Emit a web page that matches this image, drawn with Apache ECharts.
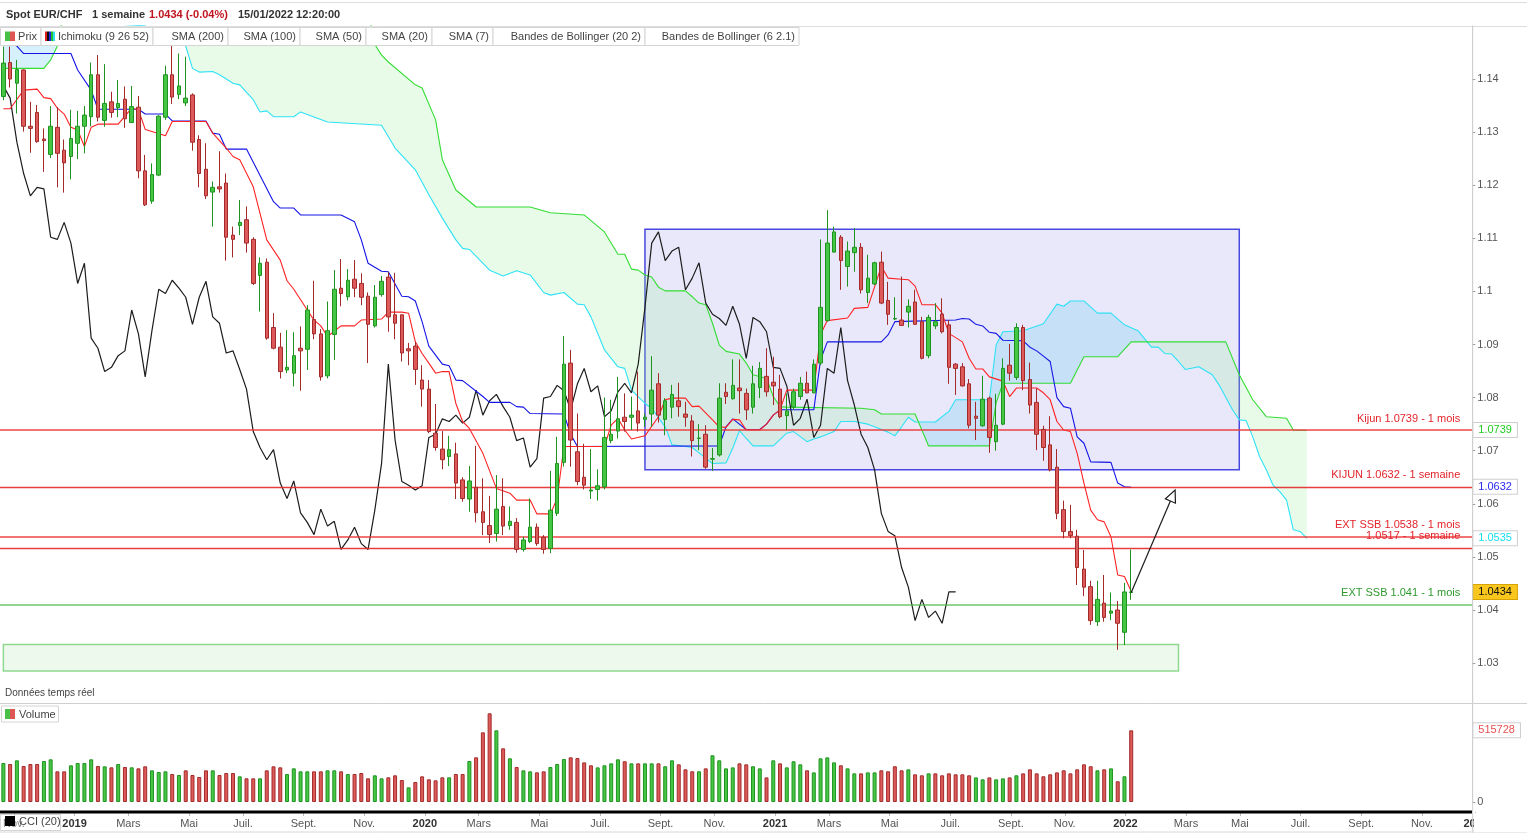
<!DOCTYPE html>
<html><head><meta charset="utf-8">
<script src="https://cdn.jsdelivr.net/npm/echarts@6/dist/echarts.min.js"></script>
<style>html,body{margin:0;padding:0;background:#fff}#c{width:1527px;height:833px}</style>
</head><body><div id="c"></div>
<script>
// ---------------- DATA ----------------
// weekly candles, first item = week of 29 Oct 2018 (partly hidden), last = week of 10 Jan 2022
const opens = [1.1367,1.1431,1.1392,1.1417,1.1311,1.1337,1.1287,1.1258,1.1309,1.1266,1.1254,1.1279,1.1311,1.1329,1.1408,1.1322,1.1357,1.1346,1.1362,1.1318,1.1347,1.1227,1.1170,1.1219,1.1328,1.1408,1.1371,1.1355,1.1370,1.1286,1.1230,1.1187,1.1197,1.1204,1.1106,1.1124,1.1135,1.1098,1.1030,1.1055,1.0932,1.0895,1.0852,1.0846,1.0893,1.0891,1.0947,1.0920,1.0841,1.0919,1.1006,1.0990,1.1023,1.1015,1.0991,1.0935,1.0994,1.1027,1.0956,1.0956,1.0892,1.0897,1.0833,1.0816,1.0733,1.0703,1.0689,1.0694,1.0645,1.0609,1.0631,1.0585,1.0559,1.0544,1.0595,1.0559,1.0565,1.0514,1.0529,1.0556,1.0537,1.0516,1.0582,1.0678,1.0865,1.0698,1.0650,1.0624,1.0627,1.0632,1.0719,1.0737,1.0763,1.0763,1.0775,1.0759,1.0769,1.0826,1.0759,1.0782,1.0794,1.0769,1.0756,1.0723,1.0731,1.0684,1.0692,1.0810,1.0798,1.0818,1.0808,1.0782,1.0819,1.0840,1.0829,1.0816,1.0766,1.0782,1.0802,1.0827,1.0809,1.0865,1.0945,1.1074,1.1102,1.1047,1.1073,1.1083,1.0998,1.1014,1.1055,1.0983,1.0948,1.0946,1.0961,1.0980,1.0943,1.0879,1.0935,1.0957,1.0937,1.0863,1.0858,1.0826,1.0765,1.0747,1.0799,1.0717,1.0750,1.0861,1.0838,1.0932,1.0834,1.0791,1.0740,1.0711,1.0669,1.0589,1.0548,1.0539,1.0477,1.0444,1.0378,1.0413,1.0394,1.0400,1.0358,1.0433];
const closes = [1.1430,1.1400,1.1418,1.1311,1.1307,1.1282,1.1284,1.1311,1.1260,1.1242,1.1288,1.1311,1.1332,1.1408,1.1328,1.1354,1.1337,1.1354,1.1325,1.1348,1.1227,1.1163,1.1220,1.1330,1.1408,1.1366,1.1387,1.1364,1.1281,1.1222,1.1180,1.1196,1.1193,1.1102,1.1098,1.1130,1.1091,1.1015,1.1053,1.0912,1.0893,1.0849,1.0857,1.0879,1.0888,1.0965,1.0920,1.0839,1.0926,1.1004,1.0996,1.1021,1.1006,1.0989,1.0938,1.0989,1.1019,1.0952,1.0940,1.0884,1.0888,1.0853,1.0816,1.0736,1.0706,1.0683,1.0702,1.0639,1.0610,1.0643,1.0583,1.0565,1.0542,1.0590,1.0558,1.0567,1.0514,1.0532,1.0556,1.0525,1.0514,1.0588,1.0676,1.0863,1.0720,1.0642,1.0635,1.0626,1.0634,1.0725,1.0731,1.0760,1.0755,1.0767,1.0752,1.0763,1.0814,1.0767,1.0794,1.0806,1.0783,1.0763,1.0719,1.0724,1.0669,1.0685,1.0799,1.0802,1.0823,1.0813,1.0777,1.0826,1.0855,1.0811,1.0822,1.0764,1.0775,1.0811,1.0827,1.0809,1.0863,1.0970,1.1091,1.1112,1.1058,1.1076,1.1083,1.1003,1.1025,1.1054,1.0978,1.0957,1.0949,1.0936,1.0972,1.0938,1.0874,1.0951,1.0943,1.0924,1.0857,1.0855,1.0822,1.0748,1.0761,1.0797,1.0725,1.0748,1.0855,1.0846,1.0932,1.0832,1.0786,1.0731,1.0706,1.0664,1.0582,1.0548,1.0540,1.0480,1.0443,1.0380,1.0420,1.0386,1.0398,1.0375,1.0434,1.0434];
const highs = [1.1461,1.1461,1.1436,1.1418,1.1357,1.1351,1.1307,1.1349,1.1347,1.1286,1.1342,1.1340,1.1349,1.1431,1.1445,1.1428,1.1376,1.1398,1.1386,1.1387,1.1368,1.1257,1.1241,1.1332,1.1425,1.1462,1.1448,1.1442,1.1373,1.1294,1.1279,1.1207,1.1264,1.1222,1.1122,1.1172,1.1160,1.1102,1.1064,1.1062,1.0959,1.0922,1.0927,1.0923,1.0934,1.0974,1.1020,1.0929,1.0981,1.1040,1.1061,1.1042,1.1059,1.1034,1.0998,1.1012,1.1029,1.1036,1.1035,1.0956,1.0903,1.0905,1.0861,1.0833,1.0788,1.0737,1.0728,1.0715,1.0650,1.0671,1.0709,1.0648,1.0615,1.0654,1.0648,1.0595,1.0573,1.0538,1.0610,1.0563,1.0541,1.0662,1.0726,1.0916,1.0890,1.0770,1.0713,1.0703,1.0665,1.0800,1.0796,1.0839,1.0808,1.0802,1.0849,1.0770,1.0878,1.0846,1.0799,1.0824,1.0828,1.0792,1.0767,1.0750,1.0748,1.0705,1.0827,1.0827,1.0872,1.0872,1.0817,1.0860,1.0867,1.0893,1.0877,1.0843,1.0808,1.0817,1.0839,1.0849,1.0872,1.1098,1.1153,1.1122,1.1106,1.1094,1.1119,1.1091,1.1069,1.1056,1.1075,1.1018,1.0989,1.1028,1.0985,1.1003,1.0952,1.0956,1.0978,1.0987,1.0946,1.0865,1.0865,1.0835,1.0792,1.0841,1.0802,1.0807,1.0874,1.0901,1.0940,1.0937,1.0866,1.0817,1.0747,1.0765,1.0703,1.0606,1.0598,1.0551,1.0513,1.0455,1.0455,1.0466,1.0433,1.0417,1.0451,1.0514];
const lows = [1.1360,1.1384,1.1335,1.1301,1.1261,1.1280,1.1225,1.1251,1.1196,1.1186,1.1211,1.1249,1.1260,1.1311,1.1320,1.1310,1.1327,1.1328,1.1308,1.1317,1.1213,1.1161,1.1165,1.1217,1.1323,1.1353,1.1362,1.1349,1.1265,1.1196,1.1174,1.1122,1.1186,1.1058,1.1064,1.1106,1.1073,1.1012,1.0962,1.0909,1.0891,1.0836,1.0846,1.0821,1.0813,1.0852,1.0910,1.0832,1.0836,1.0871,1.0972,1.0983,1.0989,1.0974,1.0865,1.0932,1.0990,1.0924,1.0910,1.0868,1.0861,1.0824,1.0783,1.0733,1.0700,1.0665,1.0671,1.0609,1.0604,1.0585,1.0565,1.0541,1.0526,1.0529,1.0541,1.0551,1.0508,1.0510,1.0526,1.0521,1.0506,1.0507,1.0577,1.0670,1.0670,1.0635,1.0627,1.0609,1.0606,1.0627,1.0714,1.0723,1.0736,1.0739,1.0736,1.0745,1.0745,1.0753,1.0729,1.0761,1.0764,1.0745,1.0689,1.0701,1.0666,1.0662,1.0689,1.0788,1.0796,1.0770,1.0758,1.0770,1.0799,1.0802,1.0786,1.0761,1.0739,1.0777,1.0796,1.0808,1.0808,1.0861,1.0943,1.1073,1.1003,1.1009,1.1037,1.0996,1.0978,1.1012,1.0976,1.0937,1.0946,1.0935,1.0932,1.0937,1.0872,1.0874,1.0929,1.0921,1.0826,1.0805,1.0821,1.0742,1.0720,1.0745,1.0696,1.0700,1.0748,1.0832,1.0833,1.0814,1.0770,1.0701,1.0681,1.0661,1.0571,1.0535,1.0535,1.0447,1.0426,1.0372,1.0370,1.0378,1.0381,1.0325,1.0334,1.0419];
const volumes = [280600,273400,299800,259000,273400,273400,295000,307000,220600,220600,263800,280600,280600,307000,259000,256600,249400,273400,251800,249400,242200,256600,227800,215800,220600,201400,194200,227800,194200,179900,227800,227800,194200,208600,208600,184600,170300,170300,170300,227800,256600,249400,201400,242200,220600,220600,220600,220600,227800,227800,220600,201400,201400,208600,170300,191800,170300,177500,191800,158300,105500,143900,184600,163100,155900,177500,177500,201400,201400,295000,321300,501200,637900,515600,386100,314100,251800,227800,220600,213400,220600,251800,273400,309300,321300,316500,285000,264000,249000,264000,278000,307000,293000,278000,278000,278000,278000,278000,257000,300000,271000,235000,221000,221000,242000,336000,300000,242000,249000,278000,271000,257000,242000,177000,300000,278000,249000,293000,271000,228000,213000,314000,321000,285000,264000,242000,206000,206000,213000,213000,228000,221000,257000,228000,235000,199000,192000,206000,206000,192000,206000,199000,199000,192000,177000,163000,177000,163000,170000,177000,192000,206000,235000,206000,185000,199000,213000,228000,206000,235000,271000,257000,228000,235000,242000,149000,185000,515728];

// Ichimoku lines: [week number (0 = week of 5 Nov 2018), price]
const tenkan = [[-1,1.1344],[0,1.1344],[2,1.1379],[4,1.1381],[5,1.1365],[6,1.1363],[7,1.1345],[8,1.1334],[9,1.1309],[10,1.1304],[11,1.1273],[12,1.1309],[13,1.1315],[16,1.1315],[18,1.1345],[19,1.1342],[20,1.1305],[21,1.1301],[23,1.1293],[24,1.1320],[29,1.1320],[30,1.1298],[32,1.1270],[33,1.1254],[34,1.1248],[36,1.1197],[37,1.1147],[38,1.1097],[40,1.1059],[41,1.1020],[42,1.1004],[44,1.0965],[45,1.0946],[46,1.0935],[47,1.0915],[49,1.0935],[51,1.0935],[52,1.0946],[55,1.0948],[56,1.0961],[58,1.0961],[59,1.0959],[60,1.0905],[61,1.0883],[62,1.0865],[63,1.0846],[64,1.0849],[65,1.0849],[66,1.0789],[67,1.0755],[68,1.0742],[70,1.0695],[72,1.0629],[74,1.0620],[75,1.0607],[77,1.0607],[78,1.0581],[80,1.0581],[81,1.0610],[82,1.0708],[88,1.0708],[89,1.0748],[90,1.0761],[91,1.0739],[92,1.0722],[94,1.0728],[96,1.0764],[97,1.0796],[98,1.0799],[100,1.0799],[101,1.0783],[102,1.0784],[104,1.0758],[105,1.0745],[106,1.0744],[107,1.0759],[108,1.0758],[109,1.0739],[111,1.0739],[112,1.0750],[113,1.0767],[114,1.0777],[115,1.0814],[119,1.0814],[120,1.0919],[121,1.0945],[124,1.0950],[125,1.0968],[127,1.0970],[129,1.1047],[130,1.1025],[132,1.1023],[133,1.1022],[134,1.1010],[135,1.0975],[137,1.0975],[138,1.0959],[139,1.0921],[141,1.0905],[142,1.0874],[143,1.0854],[144,1.0854],[145,1.0839],[147,1.0831],[148,1.0802],[149,1.0818],[152,1.0818],[153,1.0809],[154,1.0796],[155,1.0755],[156,1.0739],[157,1.0736],[158,1.0695],[159,1.0639],[160,1.0588],[161,1.0570],[162,1.0566],[163,1.0538],[164,1.0466],[165,1.0463],[166,1.0435]];
const kijun = [[-1,1.1475],[1,1.1462],[2,1.1448],[9,1.1448],[10,1.1417],[12,1.1379],[13,1.1343],[19,1.1343],[20,1.1334],[23,1.1334],[24,1.1321],[29,1.1321],[30,1.1298],[31,1.1296],[32,1.1268],[35,1.1268],[39,1.1169],[40,1.1157],[42,1.1157],[43,1.1144],[49,1.1144],[51,1.1131],[52,1.1097],[53,1.1053],[55,1.1038],[56,1.1037],[58,1.0991],[59,1.0990],[60,1.0982],[61,1.0943],[62,1.0897],[64,1.0863],[65,1.0860],[66,1.0833],[67,1.0832],[70,1.0802],[71,1.0791],[74,1.0791],[75,1.0783],[76,1.0782],[77,1.0770],[82,1.0769],[83,1.0731],[84,1.0708],[105,1.0709],[106,1.0745],[107,1.0760],[109,1.0740],[111,1.0740],[112,1.0750],[113,1.0767],[114,1.0777],[119,1.0777],[120,1.0871],[121,1.0905],[129,1.0905],[130,1.0918],[131,1.0943],[140,1.0946],[141,1.0949],[142,1.0948],[143,1.0938],[144,1.0935],[145,1.0923],[146,1.0921],[147,1.0908],[150,1.0907],[151,1.0895],[152,1.0888],[153,1.0878],[154,1.0868],[155,1.0800],[156,1.0783],[157,1.0780],[158,1.0726],[159,1.0714],[160,1.0679],[163,1.0678],[164,1.0639],[165,1.0632],[166,1.0631]];
const senkouA = [[-1,1.1510],[8,1.1510],[20,1.1500],[26,1.1462],[27,1.1420],[28,1.1413],[30,1.1414],[31,1.1408],[33,1.1392],[34,1.1389],[36,1.1361],[37,1.1338],[38,1.1340],[39,1.1329],[42,1.1329],[43,1.1338],[47,1.1319],[55,1.1313],[57,1.1270],[60,1.1229],[62,1.1182],[64,1.1138],[66,1.1097],[67,1.1081],[68,1.1079],[71,1.1040],[73,1.1029],[75,1.1039],[77,1.1031],[79,1.0998],[80,1.0993],[82,1.0998],[84,1.0976],[85,1.0975],[86,1.0952],[88,1.0890],[90,1.0858],[91,1.0855],[92,1.0814],[94,1.0789],[95,1.0780],[97,1.0745],[98,1.0711],[100,1.0708],[101,1.0706],[102,1.0696],[104,1.0676],[106,1.0677],[107,1.0705],[108,1.0738],[109,1.0723],[110,1.0709],[113,1.0709],[115,1.0733],[116,1.0736],[118,1.0717],[119,1.0722],[120,1.0726],[122,1.0736],[123,1.0755],[125,1.0755],[127,1.0750],[128,1.0745],[130,1.0735],[131,1.0728],[132,1.0745],[133,1.0763],[134,1.0754],[137,1.0754],[139,1.0774],[140,1.0796],[145,1.0796],[146,1.0899],[147,1.0924],[150,1.0926],[153,1.0939],[155,1.0976],[156,1.0972],[157,1.0982],[159,1.0982],[161,1.0959],[163,1.0959],[165,1.0937],[167,1.0926],[169,1.0895],[170,1.0895],[171,1.0883],[172,1.0882],[173,1.0868],[174,1.0853],[176,1.0858],[178,1.0843],[179,1.0824],[181,1.0777],[182,1.0758],[183,1.0757],[184,1.0726],[185,1.0689],[186,1.0664],[187,1.0635],[188,1.0623],[189,1.0607],[190,1.0551],[191,1.0548],[192,1.0535]];
const senkouB = [[-1,1.1420],[5,1.1420],[6,1.1436],[7,1.1462],[8,1.1530],[53,1.1530],[54,1.1465],[55,1.1445],[56,1.1432],[60,1.1389],[61,1.1383],[63,1.1323],[64,1.1248],[66,1.1191],[69,1.1159],[77,1.1159],[80,1.1148],[85,1.1144],[88,1.1112],[90,1.1070],[91,1.1070],[92,1.1042],[93,1.1040],[94,1.1031],[95,1.1027],[96,1.1008],[97,1.1001],[100,1.1001],[101,1.0990],[102,1.0978],[103,1.0975],[104,1.0940],[105,1.0899],[106,1.0887],[108,1.0882],[109,1.0865],[110,1.0843],[112,1.0836],[113,1.0802],[114,1.0783],[115,1.0782],[126,1.0780],[128,1.0777],[129,1.0769],[134,1.0769],[135,1.0739],[136,1.0709],[145,1.0709],[146,1.0790],[147,1.0827],[157,1.0827],[158,1.0852],[159,1.0877],[164,1.0877],[166,1.0905],[180,1.0905],[182,1.0843],[184,1.0796],[186,1.0764],[189,1.0761],[190,1.0739],[192,1.0738]];
const chikouShift = 26;

// drawn annotations
const levelValues = [1.0739, 1.0632, 1.0538, 1.0517, 1.041];
const levelTexts = ['Kijun 1.0739 - 1 mois', 'KIJUN 1.0632 - 1 semaine', 'EXT SSB 1.0538 - 1 mois', '1.0517 - 1 semaine', 'EXT SSB 1.041 - 1 mois'];
const tagValues = [1.0739, 1.0632, 1.0535, 1.0434];
const volumeTag = 515728;
const zoneBoxes = [[94, 1.1117, 182, 1.0664], [-1, 1.0335, 173, 1.0285]]; // [week, price, week, price]
const arrowPts = [166, 1.0433, 172.5, 1.0626];
const yTicks = [1.03,1.04,1.05,1.06,1.07,1.08,1.09,1.1,1.11,1.12,1.13,1.14];
const monthLabels = ['Janv.','Févr.','Mars','Avr.','Mai','Juin','Juil.','Août','Sept.','Oct.','Nov.','Déc.'];
const legendNames = ['Prix','Ichimoku (9 26 52)','SMA (200)','SMA (100)','SMA (50)','SMA (20)','SMA (7)','Bandes de Bollinger (20 2)','Bandes de Bollinger (6 2.1)'];

// ---------------- LAYOUT ----------------
const FONT = '"Liberation Sans", Arial, sans-serif';
const STEP = 6.774, FIRST_X = 5.7;          // px per week, centre of week 0
const GRID_LEFT = FIRST_X - STEP * 1.5;
const N_CATS = 218, N_LABEL_CATS = 219;
const firstMonday = Date.UTC(2018, 9, 29);
const WEEK = 7 * 86400000;
const cats = [];
for (let i = 0; i < N_LABEL_CATS; i++) cats.push(new Date(firstMonday + i * WEEK).toISOString().slice(0, 10));
const isMonthStart = (idx) => { const d = new Date(firstMonday + idx * WEEK); return d.getUTCDate() <= 7 && d.getUTCMonth() % 2 === 0; };
const fmtMonth = (v) => { const d = new Date(v + 'T00:00:00Z'); const m = d.getUTCMonth(); return m === 0 ? '{y|' + d.getUTCFullYear() + '}' : monthLabels[m]; };

const UP = '#45c645', UP_B = '#1f931f', DN = '#dd5a5a', DN_B = '#a42a2a';
const CLEAR = 'rgba(0,0,0,0)';

const candleData = opens.map((o, i) => [o, closes[i], lows[i], highs[i]]);
const volData = volumes.map((v, i) => {
  const up = i === 0 || closes[i] > closes[i - 1];
  return { value: v, itemStyle: { color: up ? UP : DN, borderColor: up ? UP_B : DN_B, borderWidth: 1 } };
});
const chikouData = [];
for (let i = 0; i + chikouShift < closes.length; i++) chikouData.push([i, closes[i + chikouShift]]);
const shift = (arr) => arr.map(([k, p]) => [k + 1, p]);

function valAt(arr, k) {
  if (k <= arr[0][0]) return arr[0][1];
  for (let j = 1; j < arr.length; j++) {
    if (k <= arr[j][0]) { const [k0, p0] = arr[j - 1], [k1, p1] = arr[j]; return p0 + (p1 - p0) * (k - k0) / (k1 - k0); }
  }
  return arr[arr.length - 1][1];
}
function pxAt(api, kf, v) {
  const f = Math.floor(kf), i = f + 1;
  const a = api.coord([i, v]), b = api.coord([i + 1, v]);
  return [a[0] + (kf - f) * (b[0] - a[0]), a[1]];
}

function renderCloud(params, api) {
  if (params.dataIndex !== 0) return;
  const kStart = senkouA[0][0], kEnd = senkouA[senkouA.length - 1][0];
  const polys = []; let top = [], bot = [], prev = null;
  for (let k = kStart; k <= kEnd; k++) {
    const a = valAt(senkouA, k), b = valAt(senkouB, k), d = a - b, s = d >= 0 ? 1 : -1;
    if (prev && s !== prev.s) {
      const t = prev.d / (prev.d - d);
      const kc = prev.k + t, vc = prev.a + t * (a - prev.a);
      top.push([kc, vc]); bot.push([kc, vc]);
      polys.push({ s: prev.s, top, bot });
      top = [[kc, vc]]; bot = [[kc, vc]];
    }
    top.push([k, a]); bot.push([k, b]);
    prev = { k, a, d, s };
  }
  polys.push({ s: prev.s, top, bot });
  return {
    type: 'group',
    children: polys.map(p => ({
      type: 'polygon',
      shape: { points: p.top.map(q => pxAt(api, q[0], q[1])).concat(p.bot.slice().reverse().map(q => pxAt(api, q[0], q[1]))) },
      style: { fill: p.s > 0 ? 'rgba(120,205,245,0.30)' : 'rgba(150,235,150,0.22)', stroke: null }
    }))
  };
}
function renderArrow(params, api) {
  const p0 = pxAt(api, api.value(0), api.value(1));
  const p1 = pxAt(api, api.value(2), api.value(3));
  const dx = p1[0] - p0[0], dy = p1[1] - p0[1], L = Math.hypot(dx, dy);
  const ux = dx / L, uy = dy / L, nx = -uy, ny = ux, hl = 12, hw = 5.5;
  const bx = p1[0] - ux * hl, by = p1[1] - uy * hl;
  return {
    type: 'group', children: [
      { type: 'line', shape: { x1: p0[0], y1: p0[1], x2: bx, y2: by }, style: { stroke: '#1a1a1a', lineWidth: 1.2 } },
      { type: 'polygon', shape: { points: [[p1[0], p1[1]], [bx + nx * hw, by + ny * hw], [bx - nx * hw, by - ny * hw]] }, style: { fill: '#fff', stroke: '#1a1a1a', lineWidth: 1.2 } }
    ]
  };
}

const lvlColors = ['rgba(235,55,55,0.7)', 'rgba(228,40,40,0.9)', 'rgba(235,55,55,0.7)', 'rgba(228,40,40,0.9)', 'rgba(70,185,70,0.6)'];
const lvlWidths = [2, 1.4, 2, 1.4, 2];
const lvlText = ['#e3242b', '#e3242b', '#e3242b', '#e3242b', '#2e9a2e'];
const tagStyles = [
  { color: '#22cc22', backgroundColor: '#fff', borderColor: '#cfcfcf' },
  { color: '#2a2af0', backgroundColor: '#fff', borderColor: '#cfcfcf' },
  { color: '#18e0ee', backgroundColor: '#fff', borderColor: '#cfcfcf' },
  { color: '#111', backgroundColor: '#f8c61c', borderColor: '#d6a300' }
];
const markLineData = levelValues.map((v, i) => ({
  yAxis: v, lineStyle: { color: lvlColors[i], width: lvlWidths[i], type: 'solid' },
  label: { show: true, position: 'insideEndTop', distance: [12, 6], formatter: levelTexts[i], color: lvlText[i], fontSize: 11, fontFamily: FONT }
})).concat(tagValues.map((v, i) => ({
  yAxis: v, lineStyle: { color: CLEAR, width: 1, type: 'solid' },
  label: Object.assign({ show: true, position: 'end', distance: 1, formatter: v.toFixed(4), fontSize: 11, fontFamily: FONT, borderWidth: 1, padding: [2, 5, 1, 5] }, tagStyles[i])
})));
const boxStyles = [
  { color: 'rgba(100,100,220,0.15)', borderColor: '#4848e0', borderWidth: 1.5 },
  { color: 'rgba(120,210,120,0.13)', borderColor: '#90d890', borderWidth: 1.5 }
];
const markAreaData = zoneBoxes.map((b, i) => [
  { coord: [b[0] + 1, b[1]], itemStyle: boxStyles[i] },
  { coord: [b[2] + 1, b[3]] }
]);

// graphics (header, legends, pane borders)
const G = [];
const txt = (x, y, s, fill, size, weight) => G.push({ type: 'text', x, y, z: 110, silent: true, style: { text: s, fill, font: (weight || 'normal') + ' ' + (size || 11) + 'px ' + FONT, verticalAlign: 'middle', align: 'left' } });
const hline = (x1, x2, y, c, w) => G.push({ type: 'line', z: 105, silent: true, shape: { x1, y1: y, x2, y2: y }, style: { stroke: c, lineWidth: w || 1 } });
const vline = (x, y1, y2, c) => G.push({ type: 'line', z: 105, silent: true, shape: { x1: x, y1, x2: x, y2 }, style: { stroke: c, lineWidth: 1 } });
hline(0, 1527, 2.5, '#dddddd');
hline(0, 1527, 26.5, '#dddddd');
txt(6, 15, 'Spot EUR/CHF', '#333', 11, 'bold');
txt(92, 15, '1 semaine', '#333', 11, 'bold');
txt(149, 15, '1.0434 (-0.04%)', '#c0141e', 11, 'bold');
txt(238, 15, '15/01/2022 12:20:00', '#333', 11, 'bold');
const legendEdges = [0.5, 41, 153, 228, 300, 366, 432, 493, 645, 799];
for (let i = 0; i < legendNames.length; i++) {
  const x0 = legendEdges[i], x1 = legendEdges[i + 1];
  G.push({ type: 'rect', z: 104, silent: true, shape: { x: x0, y: 27.5, width: x1 - x0, height: 18 }, style: { fill: '#fff', stroke: '#d4d4d4', lineWidth: 1 } });
  G.push({ type: 'text', z: 110, silent: true, x: x1 - 4, y: 36.8, style: { text: legendNames[i], fill: '#444', font: '11px ' + FONT, align: 'right', verticalAlign: 'middle' } });
}
G.push({ type: 'rect', z: 110, silent: true, shape: { x: 5, y: 31.5, width: 5, height: 9.5 }, style: { fill: '#47c247' } });
G.push({ type: 'rect', z: 110, silent: true, shape: { x: 10, y: 31.5, width: 5, height: 9.5 }, style: { fill: '#dd5555' } });
['#e02020', '#111', '#2424e6', '#2bbf2b', '#27e0f0'].forEach((c, j) => G.push({ type: 'rect', z: 110, silent: true, shape: { x: 45 + j * 2, y: 31.5, width: 2, height: 9.5 }, style: { fill: c } }));
txt(5, 693, 'Données temps réel', '#444', 10);
hline(0, 1527, 703.5, '#cfcfcf');
G.push({ type: 'rect', z: 104, silent: true, shape: { x: 1.5, y: 706, width: 57, height: 16 }, style: { fill: '#fff', stroke: '#d4d4d4', lineWidth: 1 } });
G.push({ type: 'rect', z: 110, silent: true, shape: { x: 5, y: 709, width: 5, height: 10 }, style: { fill: '#47c247' } });
G.push({ type: 'rect', z: 110, silent: true, shape: { x: 10, y: 709, width: 5, height: 10 }, style: { fill: '#dd5555' } });
txt(19, 714.5, 'Volume', '#444');
hline(0, 1472, 812, '#000', 3);
G.push({ type: 'rect', z: 106, silent: true, shape: { x: 1474, y: 813, width: 53, height: 19 }, style: { fill: '#fff' } });
G.push({ type: 'rect', z: 108, silent: true, shape: { x: 0.5, y: 814.5, width: 60, height: 16 }, style: { fill: 'rgba(255,255,255,0.25)', stroke: '#d4d4d4', lineWidth: 1 } });
G.push({ type: 'rect', z: 110, silent: true, shape: { x: 5, y: 816, width: 10, height: 10 }, style: { fill: '#000' } });
txt(19, 822, 'CCI (20)', '#444');
vline(1472.7, 26, 833, '#cfcfcf');
hline(0, 1527, 832, '#d8d8d8');

const option = {
  animation: false,
  backgroundColor: '#fff',
  textStyle: { fontFamily: FONT },
  grid: [
    { left: GRID_LEFT, top: 25.9, width: STEP * N_CATS, height: 690.3 },
    { left: GRID_LEFT, top: 704, width: STEP * N_CATS, height: 98 },
    { left: GRID_LEFT, top: 806, width: STEP * N_LABEL_CATS, height: 6 }
  ],
  xAxis: [
    { type: 'category', gridIndex: 0, data: cats.slice(0, N_CATS), show: false },
    { type: 'category', gridIndex: 1, data: cats.slice(0, N_CATS), show: false },
    { type: 'category', gridIndex: 2, data: cats, position: 'bottom',
      axisLine: { show: false },
      axisTick: { show: true, interval: (i) => isMonthStart(i), alignWithLabel: true, length: 4, lineStyle: { color: '#bbb' } },
      axisLabel: { interval: (i) => isMonthStart(i), formatter: fmtMonth, margin: 6, color: '#555', fontSize: 11, fontFamily: FONT,
        rich: { y: { fontWeight: 'bold', color: '#333', fontSize: 11, fontFamily: FONT } } },
      splitLine: { show: false } }
  ],
  yAxis: [
    { type: 'value', gridIndex: 0, position: 'right', min: 1.02, max: 1.15, interval: 0.01, scale: false,
      splitLine: { show: false },
      axisLine: { show: true, lineStyle: { color: '#cfcfcf' } },
      axisTick: { show: true, length: 3, lineStyle: { color: '#999' }, customValues: yTicks },
      axisLabel: { customValues: yTicks, margin: 5, color: '#555', fontSize: 11, fontFamily: FONT,
        formatter: (v) => String(+(+v).toFixed(2)) } },
    { type: 'value', gridIndex: 1, position: 'right', min: 0, max: 705000, interval: 705000,
      splitLine: { show: false },
      axisLine: { show: true, lineStyle: { color: '#cfcfcf' } },
      axisTick: { show: true, length: 3, lineStyle: { color: '#999' }, customValues: [0] },
      axisLabel: { customValues: [0], margin: 5, color: '#555', fontSize: 11, fontFamily: FONT } },
    { type: 'value', gridIndex: 2, show: false }
  ],
  series: [
    { type: 'custom', name: 'cloud', xAxisIndex: 0, yAxisIndex: 0, z: 1, clip: true, silent: true,
      renderItem: renderCloud, data: [[0, 1.1]] },
    { type: 'line', name: 'senkouA', xAxisIndex: 0, yAxisIndex: 0, z: 2, symbol: 'none', silent: true,
      data: shift(senkouA), lineStyle: { color: '#2ee2f6', width: 1.1 }, itemStyle: { color: '#2ee2f6' } },
    { type: 'line', name: 'senkouB', xAxisIndex: 0, yAxisIndex: 0, z: 2, symbol: 'none', silent: true,
      data: shift(senkouB), lineStyle: { color: '#33dd33', width: 1.1 }, itemStyle: { color: '#33dd33' } },
    { type: 'line', name: 'chikou', xAxisIndex: 0, yAxisIndex: 0, z: 3, symbol: 'none', silent: true,
      data: chikouData, lineStyle: { color: '#1c1c1c', width: 1.2 }, itemStyle: { color: '#1c1c1c' },
      markArea: { silent: true, label: { show: false }, data: markAreaData } },
    { type: 'line', name: 'kijun', xAxisIndex: 0, yAxisIndex: 0, z: 3, symbol: 'none', silent: true,
      data: shift(kijun), lineStyle: { color: '#1414e6', width: 1.1 }, itemStyle: { color: '#1414e6' } },
    { type: 'line', name: 'tenkan', xAxisIndex: 0, yAxisIndex: 0, z: 3, symbol: 'none', silent: true,
      data: shift(tenkan), lineStyle: { color: '#ff2222', width: 1.1 }, itemStyle: { color: '#ff2222' },
      markLine: { silent: true, precision: 4, symbol: ['none', 'none'], animation: false, data: markLineData } },
    { type: 'candlestick', name: 'Prix', xAxisIndex: 0, yAxisIndex: 0, z: 5, barWidth: 4, silent: true,
      itemStyle: { color: UP, color0: DN, borderColor: UP_B, borderColor0: DN_B, borderColorDoji: UP_B, borderWidth: 1 },
      data: candleData },
    { type: 'custom', name: 'arrow', xAxisIndex: 0, yAxisIndex: 0, z: 6, silent: true,
      renderItem: renderArrow, data: [arrowPts] },
    { type: 'bar', name: 'Volume', xAxisIndex: 1, yAxisIndex: 1, barWidth: 4, silent: true, data: volData,
      markLine: { silent: true, precision: 0, symbol: ['none', 'none'], data: [{ yAxis: volumeTag, lineStyle: { color: CLEAR, width: 1 },
        label: { show: true, position: 'end', distance: 1, formatter: String(volumeTag), color: '#e85050', fontSize: 11, fontFamily: FONT,
          backgroundColor: '#fff', borderColor: '#cfcfcf', borderWidth: 1, padding: [2, 5, 1, 5] } }] } }
  ],
  graphic: G
};
const chart = echarts.init(document.getElementById('c'), null, { renderer: 'canvas' });
chart.setOption(option);
</script></body></html>
